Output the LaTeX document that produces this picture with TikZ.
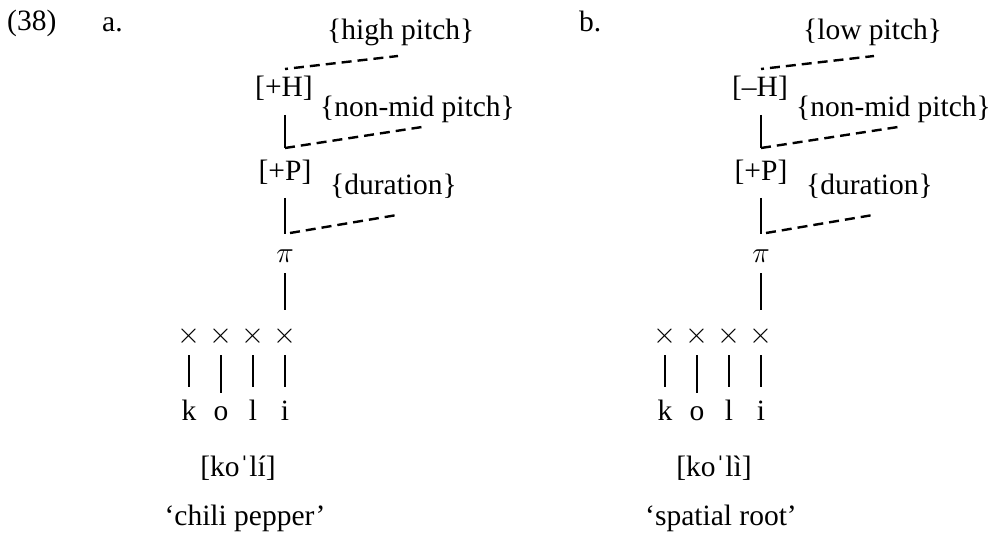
\RequirePackage{fix-cm}
\documentclass[tikz,border=0pt]{standalone}
\usepackage{fontspec}
\setmainfont{Liberation Serif}
\tikzset{
  txt/.style={font=\fontsize{29.5}{34}\selectfont, inner sep=0pt},
  lbl/.style={txt, anchor=base west},
  ctr/.style={txt, anchor=base},
  treeline/.style={line width=2.4pt},
  dsh/.style={line width=2.4pt, dash pattern=on 10pt off 6pt},
}
\newcommand\mytree[6]{%
\begin{scope}[xshift=#2]
  \node[lbl] (#1top) at (327,40) {\{#3 pitch\}};
  \coordinate (#1da) at (285,69);
  \coordinate (#1db) at (398,56);
  \draw[dsh, dash phase=7pt] (#1da) -- (#1db);
  \node[ctr] (#1H) at (284,97) {[#4H]};
  \node[lbl] (#1nm) at (320,117) {\{non-mid pitch\}};
  \coordinate (#1va) at (285,115);
  \coordinate (#1vb) at (285,148);
  \coordinate (#1dc) at (422,127);
  \draw[treeline] (#1va) -- (#1vb);
  \draw[dsh] (#1vb) -- (#1dc);
  \node[ctr] (#1P) at (285,181) {[+P]};
  \node[lbl] (#1dur) at (330,195) {\{duration\}};
  \coordinate (#1vc) at (285,198);
  \coordinate (#1vd) at (285,234);
  \coordinate (#1vdd) at (290,233);
  \coordinate (#1de) at (397,215);
  \draw[treeline] (#1vc) -- (#1vd);
  \draw[dsh] (#1vdd) -- (#1de);
  \node[ctr] (#1pi) at (285,262) {$\pi$};
  \coordinate (#1ve) at (285,273);
  \coordinate (#1vf) at (285,310);
  \draw[treeline] (#1ve) -- (#1vf);
  \foreach \x/\l/\e [count=\i] in {189/k/387,221/o/393,253/l/387,285/i/387}{
    \node[ctr] (#1x\i) at (\x,343) {$\times$};
    \node[ctr] (#1s\i) at (\x,420) {\l};
    \coordinate (#1xa\i) at (\x,355);
    \coordinate (#1xb\i) at (\x,\e);
    \draw[treeline] (#1xa\i) -- (#1xb\i);
  }
  \node[ctr] (#1ipa) at (238,476) {#5};
  \node[ctr] (#1gl) at (245,525) {#6};
\end{scope}}
\begin{document}
\begin{tikzpicture}[x=1pt,y=-1pt]
  \useasboundingbox (0,0) rectangle (1001,548);
  \node[lbl] (num) at (7,31) {(38)};
  \node[lbl] (la) at (102,32) {a.};
  \node[lbl] (lb) at (579,32) {b.};
  \mytree{a}{0pt}{high}{+}{[ko\symbol{"02C8}lí]}{‘chili pepper’}
  \mytree{b}{476pt}{low}{–}{[ko\symbol{"02C8}lì]}{‘spatial root’}
\end{tikzpicture}
\end{document}
